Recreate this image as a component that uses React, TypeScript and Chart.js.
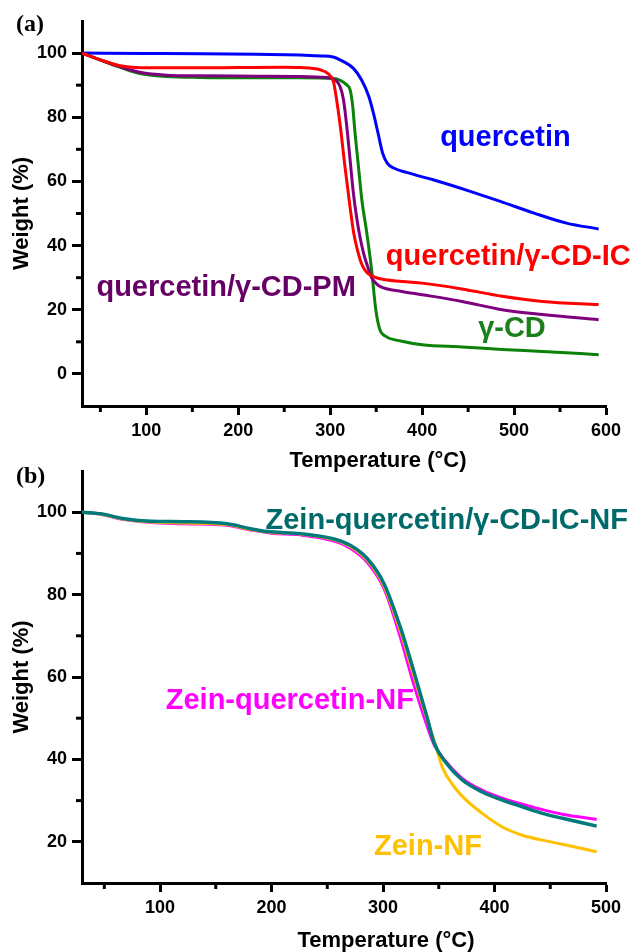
import { useEffect, useRef } from "react";
import { Chart, registerables } from "chart.js";

Chart.register(...registerables);

// ---------- Panel (a) data ----------
const tempQuercetin = [30, 100, 160, 220, 267, 290, 303, 314, 325, 334, 342, 347, 352, 357, 362, 369, 383, 412, 449, 485, 521, 557, 592];
const weightQuercetin = [100, 99.9, 99.8, 99.6, 99.4, 99.1, 98.8, 97.4, 95.3, 91.7, 86.5, 81.3, 75.1, 68.8, 65.7, 64.2, 62.8, 60.5, 57.2, 53.8, 50.2, 47.0, 45.2];

const tempIC = [30, 50, 64, 75, 104, 150, 200, 250, 267, 289, 298, 303.5, 307, 311, 316, 321.5, 325.5, 330, 334, 338, 343, 352, 378, 400, 443, 487, 531, 592];
const weightIC = [100, 97.9, 96.6, 95.9, 95.4, 95.4, 95.5, 95.6, 95.5, 94.8, 93.5, 91.1, 85.4, 77.2, 64.7, 52.2, 44.0, 38.2, 34.4, 32.3, 30.9, 29.8, 28.8, 28.3, 26.5, 24.2, 22.6, 21.6];

const tempPM = [30, 50, 71, 93, 122, 158, 220, 267, 289, 303.5, 310.7, 314.4, 318, 321.6, 325.2, 328.9, 332.5, 336.4, 341, 345, 350, 354, 378, 400, 443.5, 487, 531, 592];
const weightPM = [100, 97.9, 95.8, 94.0, 93.1, 92.9, 92.8, 92.7, 92.5, 91.9, 89.6, 85.5, 77.2, 66.8, 56.4, 48.5, 42.5, 37.5, 33.2, 30.0, 28.2, 27.3, 25.7, 24.7, 22.6, 20.0, 18.5, 16.9];

const tempCD = [30, 50, 71, 93, 122, 158, 220, 267, 303.5, 318, 321.6, 324.5, 327, 330.7, 334.4, 339.5, 345, 349.6, 354, 360.5, 378, 400, 443.5, 487, 531, 592];
const weightCD = [100, 97.8, 95.6, 93.6, 92.7, 92.4, 92.3, 92.3, 92.1, 90.1, 88.6, 83.4, 75.1, 64.7, 54.3, 44.5, 32.5, 20.0, 13.8, 11.7, 10.2, 9.1, 8.4, 7.6, 7.0, 6.0];

const xMajorA = [100, 200, 300, 400, 500, 600];
const xMinorA = [50, 150, 250, 350, 450, 550];
const yMajorA = [0, 20, 40, 60, 80, 100];
const yMinorA = [10, 30, 50, 70, 90];

// ---------- Panel (b) data ----------
const tempZeinQIC = [30, 47, 68, 92, 122, 160, 181, 196, 226, 256, 271, 286, 301, 315.5, 327.4, 339.4, 346, 357, 371, 389, 407, 425, 443, 461, 491.6];
const weightZeinQIC = [100, 99.6, 98.4, 97.8, 97.7, 97.2, 96.0, 95.3, 94.8, 93.5, 91.9, 88.7, 82.6, 72.1, 61.6, 50.3, 43.9, 39.0, 35.0, 32.1, 30.1, 28.5, 26.9, 25.7, 23.8];

const tempZeinQ = [30, 47, 68, 92, 122, 160, 181, 200, 226, 256, 271, 286, 301, 315.5, 327.4, 339, 346, 357, 371, 389, 407, 425, 443, 461, 491.6];
const weightZeinQ = [100, 99.5, 98.2, 97.5, 97.2, 96.8, 95.7, 94.9, 94.5, 93.0, 91.2, 87.8, 81.4, 69.7, 58.4, 48.5, 43.5, 39.3, 35.4, 32.5, 30.6, 29.1, 27.8, 26.7, 25.4];

const tempZein = [30, 47, 68, 92, 122, 160, 181, 200, 226, 256, 271, 286, 301, 315.5, 327.4, 339.4, 346, 353, 364, 374.6, 389, 407, 425, 443, 461, 491.6];
const weightZein = [100, 99.5, 98.3, 97.6, 97.4, 97.0, 95.8, 95.1, 94.7, 93.3, 91.6, 88.3, 82.0, 71.2, 60.5, 49.8, 44.5, 38.2, 33.3, 30.1, 26.9, 23.6, 21.6, 20.4, 19.4, 17.6];

const xMajorB = [100, 200, 300, 400, 500];
const xMinorB = [50, 150, 250, 350, 450];
const yMajorB = [20, 40, 60, 80, 100];
const yMinorB = [30, 50, 70, 90];

const SANS = "'Liberation Sans', Arial, Helvetica, sans-serif";
const SERIF = "'Liberation Serif', 'Times New Roman', serif";

type Label = { text: string; x: number; y: number; color: string };

function pts(t: number[], w: number[]) {
  return t.map((x, i) => ({ x, y: w[i] }));
}

function decorPlugin(cfg: {
  panel: string;
  panelX: number;
  panelY: number;
  xTitle: string;
  xTitleDX: number;
  xTitleDY: number;
  xMinor: number[];
  yMinor: number[];
  labels: Label[];
}) {
  return {
    id: "decor",
    afterDraw(chart: any) {
      const ctx = chart.ctx as CanvasRenderingContext2D;
      const xs = chart.scales.x;
      const ys = chart.scales.y;
      const ca = chart.chartArea;
      ctx.save();
      ctx.strokeStyle = "#000";
      ctx.lineWidth = 3;
      for (const v of cfg.xMinor) {
        const px = xs.getPixelForValue(v);
        ctx.beginPath();
        ctx.moveTo(px, ca.bottom);
        ctx.lineTo(px, ca.bottom + 6);
        ctx.stroke();
      }
      for (const v of cfg.yMinor) {
        const py = ys.getPixelForValue(v);
        ctx.beginPath();
        ctx.moveTo(ca.left, py);
        ctx.lineTo(ca.left - 6, py);
        ctx.stroke();
      }
      ctx.fillStyle = "#000";
      ctx.font = `bold 22px ${SANS}`;
      ctx.textAlign = "center";
      ctx.textBaseline = "middle";
      ctx.fillText(cfg.xTitle, (ca.left + ca.right) / 2 + cfg.xTitleDX, ca.bottom + cfg.xTitleDY);
      ctx.font = `bold 24px ${SERIF}`;
      ctx.textAlign = "left";
      ctx.fillText(cfg.panel, cfg.panelX, cfg.panelY);
      ctx.font = `bold 29px ${SANS}`;
      ctx.textBaseline = "alphabetic";
      for (const l of cfg.labels) {
        ctx.fillStyle = l.color;
        ctx.fillText(l.text, xs.getPixelForValue(l.x), ys.getPixelForValue(l.y));
      }
      ctx.restore();
    },
  };
}

function axisOpts(
  min: number,
  max: number,
  majors: number[],
  isY: boolean,
  size: number
) {
  return {
    type: "linear" as const,
    min,
    max,
    afterBuildTicks: (scale: any) => {
      scale.ticks = majors.map((value) => ({ value }));
    },
    afterFit: (scale: any) => {
      if (isY) scale.width = size;
      else scale.height = size;
    },
    border: { display: true, color: "#000", width: 3 },
    grid: {
      display: true,
      drawOnChartArea: false,
      drawTicks: true,
      tickLength: isY ? 10 : 9,
      tickWidth: 3,
      tickColor: "#000",
    },
    ticks: {
      autoSkip: false,
      maxRotation: 0,
      color: "#000",
      padding: 5,
      font: { family: SANS, size: 18, weight: "bold" as const },
      callback: (v: any) => String(v),
    },
    title: isY
      ? {
          display: true,
          text: "Weight (%)",
          color: "#000",
          font: { family: SANS, size: 22, weight: "bold" as const },
          padding: { top: 9, bottom: 0 },
        }
      : { display: false },
  };
}

function ds(label: string, t: number[], w: number[], color: string, width = 3) {
  return {
    label,
    data: pts(t, w),
    borderColor: color,
    backgroundColor: color,
    borderWidth: width,
    pointRadius: 0,
    fill: false,
    cubicInterpolationMode: "monotone" as const,
  };
}

function PanelA() {
  const ref = useRef<HTMLCanvasElement>(null);
  useEffect(() => {
    if (!ref.current) return;
    const chart = new Chart(ref.current, {
      type: "line",
      data: {
        datasets: [
          ds("quercetin/γ-CD-IC", tempIC, weightIC, "#ff0000"),
          ds("quercetin/γ-CD-PM", tempPM, weightPM, "#7f007f"),
          ds("γ-CD", tempCD, weightCD, "#0a820a"),
          ds("quercetin", tempQuercetin, weightQuercetin, "#0000ff"),
        ],
      },
      options: {
        responsive: false,
        animation: false,
        layout: { padding: { left: 0, right: 24, top: 21, bottom: 0 } },
        plugins: { legend: { display: false }, tooltip: { enabled: false } },
        scales: {
          x: axisOpts(30, 600, xMajorA, false, 70),
          y: axisOpts(-10, 110, yMajorA, true, 82),
        },
      },
      plugins: [
        decorPlugin({
          panel: "(a)",
          panelX: 16,
          panelY: 25,
          xTitle: "Temperature (°C)",
          xTitleDX: 34,
          xTitleDY: 55,
          xMinor: xMinorA,
          yMinor: yMinorA,
          labels: [
            { text: "quercetin", x: 419.6, y: 70.9, color: "#0000ff" },
            { text: "quercetin/γ-CD-IC", x: 360.5, y: 34.0, color: "#ff0000" },
            { text: "quercetin/γ-CD-PM", x: 45.7, y: 24.2, color: "#660066" },
            { text: "γ-CD", x: 460.9, y: 11.5, color: "#1b7f1b" },
          ],
        }),
      ],
    } as any);
    return () => chart.destroy();
  }, []);
  return (
    <canvas
      ref={ref}
      width={630}
      height={476}
      style={{ position: "absolute", left: 0, top: 0, width: 630, height: 476 }}
    />
  );
}

function PanelB() {
  const ref = useRef<HTMLCanvasElement>(null);
  useEffect(() => {
    if (!ref.current) return;
    const chart = new Chart(ref.current, {
      type: "line",
      data: {
        datasets: [
          ds("Zein-quercetin/γ-CD-IC-NF", tempZeinQIC, weightZeinQIC, "#007a7a", 3.5),
          ds("Zein-NF", tempZein, weightZein, "#ffc000"),
          ds("Zein-quercetin-NF", tempZeinQ, weightZeinQ, "#ff00ff"),
        ],
      },
      options: {
        responsive: false,
        animation: false,
        layout: { padding: { left: 0, right: 24, top: 21, bottom: 0 } },
        plugins: { legend: { display: false }, tooltip: { enabled: false } },
        scales: {
          x: axisOpts(30, 500, xMajorB, false, 69),
          y: axisOpts(10, 110, yMajorB, true, 82),
        },
      },
      plugins: [
        decorPlugin({
          panel: "(b)",
          panelX: 16,
          panelY: 27,
          xTitle: "Temperature (°C)",
          xTitleDX: 42,
          xTitleDY: 58,
          xMinor: xMinorB,
          yMinor: yMinorB,
          labels: [
            { text: "Zein-quercetin/γ-CD-IC-NF", x: 194.6, y: 96.0, color: "#006a6a" },
            { text: "Zein-quercetin-NF", x: 105.1, y: 52.3, color: "#ff00ff" },
            { text: "Zein-NF", x: 291.9, y: 16.8, color: "#ffc000" },
          ],
        }),
      ],
    } as any);
    return () => chart.destroy();
  }, []);
  return (
    <canvas
      ref={ref}
      width={630}
      height={502}
      style={{ position: "absolute", left: 0, top: 450, width: 630, height: 502 }}
    />
  );
}

export default function App() {
  return (
    <div
      style={{
        position: "absolute",
        left: 0,
        top: 0,
        width: 630,
        height: 952,
        background: "#fff",
        overflow: "hidden",
      }}
    >
      <PanelA />
      <PanelB />
    </div>
  );
}
